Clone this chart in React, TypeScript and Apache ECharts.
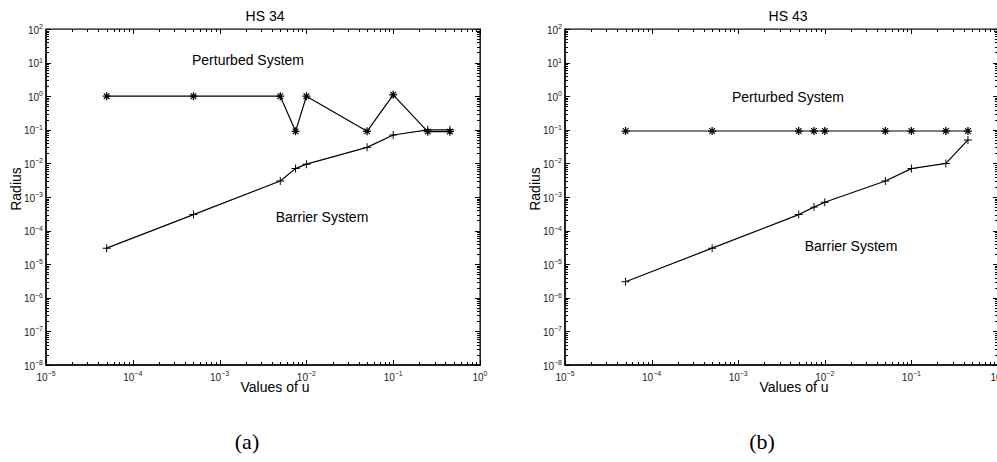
import React, { useEffect, useRef } from "react";
import * as echarts from "echarts";

// ---- data ----
const U_VALUES = [5e-5, 5e-4, 5e-3, 7.5e-3, 1e-2, 5e-2, 0.1, 0.25, 0.45];
const HS34_PERTURBED = [1, 1, 1, 0.09, 1, 0.09, 1.1, 0.088, 0.088];
const HS34_BARRIER = [3e-5, 3e-4, 3e-3, 7e-3, 9.5e-3, 0.03, 0.07, 0.1, 0.1];
const HS43_PERTURBED = [0.092, 0.092, 0.092, 0.092, 0.092, 0.092, 0.092, 0.092, 0.092];
const HS43_BARRIER = [3e-6, 3e-5, 3e-4, 5e-4, 7e-4, 3e-3, 7e-3, 0.01, 0.05];

const X_DECADES = [-5, -4, -3, -2, -1, 0];
const Y_DECADES = [-8, -7, -6, -5, -4, -3, -2, -1, 0, 1, 2];
const TITLES = ["HS 34", "HS 43"];
const CAPTIONS = ["(a)", "(b)"];

const pow10 = (e: number) => Number(`1e${e}`);
const majors = (decs: number[]) => decs.map(pow10);
const minors = (decs: number[]) => {
  const out: number[] = [];
  for (let i = 0; i < decs.length - 1; i++) {
    for (let k = 2; k <= 9; k++) out.push(Number(`${k}e${decs[i]}`));
  }
  return out;
};

const FONT = "'Liberation Sans', Arial, Helvetica, sans-serif";
const SERIF = "'Liberation Serif', 'DejaVu Serif', serif";

const PLUS = "path://M0.44 0H0.56V0.44H1V0.56H0.56V1H0.44V0.56H0V0.44H0.44Z";
const STAR =
  "path://M0.42 0H0.58V1H0.42Z M0 0.42H1V0.58H0Z M0.1 0.2L0.2 0.1L0.9 0.8L0.8 0.9Z M0.8 0.1L0.9 0.2L0.2 0.9L0.1 0.8Z";

const fmt = (v: number) => {
  const e = Math.round(Math.log10(v));
  return `{b|10}{s|${e < 0 ? "\u2212" + -e : e}}`;
};
const rich = {
  b: { fontSize: 10, fontFamily: FONT, color: "#222", verticalAlign: "bottom" as const },
  s: { fontSize: 7, fontFamily: FONT, color: "#222", verticalAlign: "bottom" as const, padding: [0, 0, 5, 0] },
};

const GRIDS = [
  { left: 46, top: 29, width: 434, height: 336 },
  { left: 565, top: 29, width: 433, height: 336 },
];
const NX = 2; // axes per grid per dimension

function App() {
  const ref = useRef<HTMLDivElement>(null);
  useEffect(() => {
    if (!ref.current) return;
    const chart = echarts.init(ref.current, undefined, { renderer: "svg" });
    const xMaj = majors(X_DECADES);
    const xMin = minors(X_DECADES);
    const yMaj = majors(Y_DECADES);
    const yMin = minors(Y_DECADES);

    const xAxis: any[] = [];
    const yAxis: any[] = [];
    GRIDS.forEach((_, g) => {
      const bx = {
        type: "log",
        logBase: 10,
        gridIndex: g,
        min: xMaj[0],
        max: xMaj[xMaj.length - 1],
        splitLine: { show: false },
        minorTick: { show: false },
        axisTick: { show: false },
      };
      const by = { ...bx, min: yMaj[0], max: yMaj[yMaj.length - 1] };
      xAxis.push(
        {
          ...bx,
          position: "bottom",
          axisLine: { show: true, onZero: false, lineStyle: { color: "#000", width: 1.5 } },
          axisLabel: { show: true, customValues: xMaj, formatter: fmt, rich, margin: 5 },
        },
        {
          ...bx,
          position: "top",
          axisLine: { show: true, onZero: false, lineStyle: { color: "#999", width: 1 } },
          axisLabel: { show: false },
        }
      );
      yAxis.push(
        {
          ...by,
          position: "left",
          axisLine: { show: true, onZero: false, lineStyle: { color: "#000", width: 1.5 } },
          axisLabel: { show: true, customValues: yMaj, formatter: fmt, rich, margin: 3 },
        },
        {
          ...by,
          position: "right",
          axisLine: { show: true, onZero: false, lineStyle: { color: "#444", width: 1 } },
          axisLabel: { show: false },
        }
      );
    });

    const mk = (g: number, vals: number[], symbol: string, name: string) => ({
      type: "line",
      name,
      xAxisIndex: g * NX,
      yAxisIndex: g * NX,
      data: U_VALUES.map((u, i) => [u, vals[i]]),
      symbol,
      symbolSize: 8,
      showSymbol: true,
      lineStyle: { color: "#000", width: 1.2 },
      itemStyle: { color: "#000" },
      z: 5,
    });

    const text = (t: string, x: number, y: number, font: string, extra: any = {}) => ({
      type: "text",
      x,
      y,
      ...extra,
      style: {
        text: t,
        fill: "#000",
        font,
        align: "center",
        verticalAlign: "middle",
        textAlign: "center",
        textVerticalAlign: "middle",
      },
    });

    const texts = [
      text(TITLES[0], 265, 16, `14px ${FONT}`),
      text(TITLES[1], 788, 16, `14px ${FONT}`),
      text("Radius", 16, 189, `14px ${FONT}`, { rotation: Math.PI / 2 }),
      text("Radius", 535, 189, `14px ${FONT}`, { rotation: Math.PI / 2 }),
      text("Values of u", 275, 387, `14px ${FONT}`),
      text("Values of u", 794, 387, `14px ${FONT}`),
      text("Perturbed System", 248, 60, `14px ${FONT}`),
      text("Perturbed System", 788, 97, `14px ${FONT}`),
      text("Barrier System", 322, 217, `14px ${FONT}`),
      text("Barrier System", 851, 246, `14px ${FONT}`),
      text(CAPTIONS[0], 247, 441, `22px ${SERIF}`),
      text(CAPTIONS[1], 762, 441, `22px ${SERIF}`),
    ];

    chart.setOption({
      animation: false,
      backgroundColor: "#fff",
      grid: GRIDS.map((gr) => ({ ...gr, containLabel: false, outerBoundsMode: "none" })),
      xAxis,
      yAxis,
      series: [
        mk(0, HS34_PERTURBED, STAR, "Perturbed System"),
        mk(0, HS34_BARRIER, PLUS, "Barrier System"),
        mk(1, HS43_PERTURBED, STAR, "Perturbed System"),
        mk(1, HS43_BARRIER, PLUS, "Barrier System"),
      ],
      graphic: texts,
    });

    // inward tick marks: one zig-zag polyline per side, positioned through the log axes' scales
    const tickLines: any[] = [];
    const poly = (points: number[][]) => ({
      type: "polyline",
      silent: true,
      z: 50,
      shape: { points },
      style: { stroke: "#000", lineWidth: 1, fill: null },
    });
    const withLen = (maj: number[], min: number[]) =>
      [...maj.map((v) => [v, 5]), ...min.map((v) => [v, 3])].sort((a, b) => a[0] - b[0]);
    GRIDS.forEach((_, g) => {
      const finder = { xAxisIndex: g * NX, yAxisIndex: g * NX };
      const c0 = chart.convertToPixel(finder, [xMaj[0], yMaj[0]]) as number[];
      const c1 = chart.convertToPixel(finder, [xMaj[xMaj.length - 1], yMaj[yMaj.length - 1]]) as number[];
      if (!c0 || !c1) return;
      const left = c0[0];
      const bottom = c0[1];
      const right = c1[0];
      const top = c1[1];
      const bottomPts: number[][] = [];
      const topPts: number[][] = [];
      withLen(xMaj, xMin).forEach(([v, len]) => {
        const p = chart.convertToPixel(finder, [v, yMaj[0]]) as number[];
        if (!p || !isFinite(p[0])) return;
        const x = Math.round(p[0]) + 0.5;
        bottomPts.push([x, bottom], [x, bottom - len], [x, bottom]);
        topPts.push([x, top], [x, top + len], [x, top]);
      });
      const leftPts: number[][] = [];
      const rightPts: number[][] = [];
      withLen(yMaj, yMin).forEach(([v, len]) => {
        const p = chart.convertToPixel(finder, [xMaj[0], v]) as number[];
        if (!p || !isFinite(p[1])) return;
        const y = Math.round(p[1]) + 0.5;
        leftPts.push([left, y], [left + len, y], [left, y]);
        rightPts.push([right, y], [right - len, y], [right, y]);
      });
      [bottomPts, topPts, leftPts, rightPts].forEach((pts) => {
        if (pts.length > 1) tickLines.push(poly(pts));
      });
    });
    chart.setOption({ graphic: [...texts, ...tickLines] });

    return () => chart.dispose();
  }, []);
  return (
    <div
      ref={ref}
      style={{ position: "fixed", left: 0, top: 0, width: 997, height: 462, background: "#fff" }}
    />
  );
}

export default App;
